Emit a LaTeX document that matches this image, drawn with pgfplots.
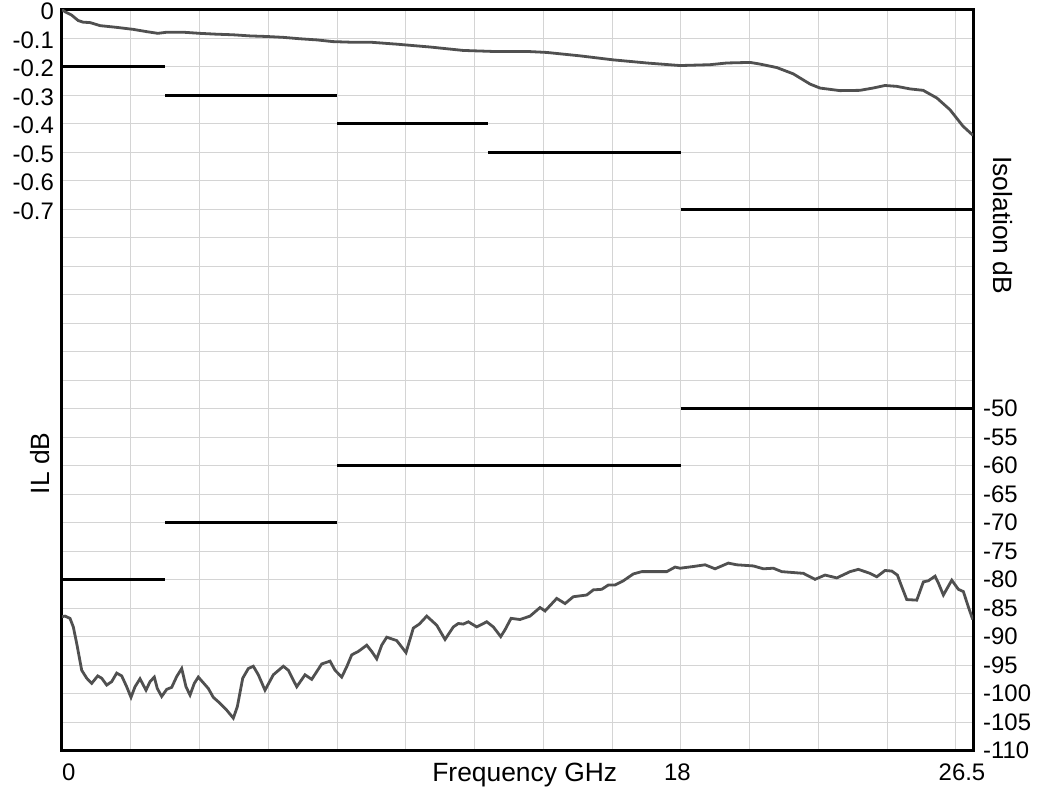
\documentclass[border=0pt]{standalone}
\usepackage{fontspec}
\setmainfont{Liberation Sans}
\usepackage{pgfplots}
\pgfplotsset{compat=1.18}
\definecolor{trace}{RGB}{80,80,80}
\definecolor{gridc}{RGB}{212,212,212}
\begin{document}
\begin{tikzpicture}
\path[use as bounding box] (-62bp,-41.4bp) rectangle (989bp,750.6bp);
\begin{axis}[
  at={(0,0)}, anchor=south west,
  scale only axis, width=911bp, height=740.9bp,
  xmin=0, xmax=26.5, ymin=-2.6, ymax=0,
  xtick={0.2,17.9,26.18}, xticklabels={0,18,26.5},
  minor xtick={2,4,6,8,10,12,14,16,18,20,22,24,26},
  ytick={0,-0.1,-0.2,-0.3,-0.4,-0.5,-0.6,-0.7},
  yticklabels={0,-0.1,-0.2,-0.3,-0.4,-0.5,-0.6,-0.7},
  minor ytick={-0.8,-0.9,-1.0,-1.1,-1.2,-1.3,-1.4,-1.5,-1.6,-1.7,-1.8,-1.9,-2.0,-2.1,-2.2,-2.3,-2.4,-2.5},
  xmajorgrids=false, xminorgrids=true, ymajorgrids=true, yminorgrids=true,
  grid style={gridc, line width=1bp},
  minor grid style={gridc, line width=1bp},
  major tick length=0pt, minor tick length=0pt,
  axis line style={line width=3bp, black},
  /pgf/number format/assume math mode=true,
  ticklabel style={font=\fontsize{24}{28}\selectfont, inner sep=0pt},
  xticklabel style={anchor=north, yshift=-13.4bp},
  yticklabel style={anchor=east, xshift=-8bp, yshift=-2bp},
  xlabel={Frequency GHz}, ylabel={IL dB},
  label style={font=\fontsize{26.5}{30}\selectfont, inner sep=0pt},
  xlabel style={at={(axis description cs:0.508,0)}, anchor=north, yshift=-12.4bp},
  ylabel style={at={(axis description cs:-0.02415,0.3875)}, anchor=center},
]
% IL specification mask
\addplot[black, line width=3bp] coordinates {(0,-0.2) (3,-0.2)};
\addplot[black, line width=3bp] coordinates {(3,-0.3) (8,-0.3)};
\addplot[black, line width=3bp] coordinates {(8,-0.4) (12.4,-0.4)};
\addplot[black, line width=3bp] coordinates {(12.4,-0.5) (18,-0.5)};
\addplot[black, line width=3bp] coordinates {(18,-0.7) (26.5,-0.7)};
% IL trace
\addplot[trace, line width=2.8bp] coordinates {
(0,0) (0.087,-0.007) (0.28,-0.019) (0.47,-0.038) (0.62,-0.044) (0.81,-0.045)
(1.11,-0.056) (1.59,-0.062) (2.07,-0.069) (2.46,-0.077) (2.79,-0.083) (3.05,-0.079)
(3.52,-0.079) (4.01,-0.083) (4.50,-0.086) (4.97,-0.088) (5.47,-0.092) (5.95,-0.094)
(6.43,-0.097) (6.92,-0.102) (7.41,-0.106) (7.88,-0.112) (8.38,-0.114) (8.96,-0.114)
(9.74,-0.121) (10.71,-0.131) (11.67,-0.143) (12.65,-0.147) (13.61,-0.147) (14.10,-0.150)
(15.07,-0.162) (16.03,-0.176) (17.01,-0.187) (17.98,-0.196) (18.85,-0.193) (19.34,-0.187)
(20.02,-0.185) (20.31,-0.191) (20.79,-0.203) (21.27,-0.225) (21.76,-0.261) (22.05,-0.275)
(22.63,-0.284) (23.21,-0.283) (23.59,-0.275) (23.94,-0.266) (24.28,-0.269) (24.67,-0.278)
(25.05,-0.283) (25.45,-0.310) (25.83,-0.351) (26.21,-0.409) (26.50,-0.441)
};
\end{axis}
\begin{axis}[
  at={(0,0)}, anchor=south west,
  scale only axis, width=911bp, height=740.9bp,
  xmin=0, xmax=26.5, ymin=-110, ymax=20,
  hide x axis,
  axis y line*=right,
  y axis line style={draw=none},
  ytick={-50,-55,-60,-65,-70,-75,-80,-85,-90,-95,-100,-105,-110},
  yticklabels={-50,-55,-60,-65,-70,-75,-80,-85,-90,-95,-100,-105,-110},
  major tick length=0pt,
  /pgf/number format/assume math mode=true,
  ticklabel style={font=\fontsize{24}{28}\selectfont, inner sep=0pt},
  yticklabel style={anchor=west, xshift=10bp},
  ylabel={Isolation dB},
  label style={font=\fontsize{26.5}{30}\selectfont, inner sep=0pt},
  ylabel style={at={(axis description cs:1.0329,0.709)}, anchor=center, rotate=180},
]
% Isolation specification mask
\addplot[black, line width=3bp] coordinates {(0,-80) (3,-80)};
\addplot[black, line width=3bp] coordinates {(3,-70) (8,-70)};
\addplot[black, line width=3bp] coordinates {(8,-60) (18,-60)};
\addplot[black, line width=3bp] coordinates {(18,-50) (26.5,-50)};
% Isolation trace
\addplot[trace, line width=2.8bp] coordinates {
(0.0,-86.5) (0.087,-86.4) (0.233,-86.8) (0.329,-88.3) (0.428,-91.2) (0.573,-95.9)
(0.719,-97.3) (0.864,-98.2) (1.039,-96.9) (1.155,-97.3) (1.300,-98.5) (1.446,-97.9)
(1.591,-96.4) (1.737,-96.9) (1.882,-98.8) (2.007,-100.65) (2.124,-98.8) (2.269,-97.4)
(2.444,-99.4) (2.560,-97.9) (2.685,-97.1) (2.772,-99.1) (2.900,-100.5) (3.046,-99.25)
(3.191,-98.9) (3.337,-97.0) (3.482,-95.6) (3.607,-98.8) (3.724,-100.25) (3.849,-98.2)
(3.965,-97.1) (4.111,-98.1) (4.256,-99.1) (4.401,-100.65) (4.596,-101.7) (4.791,-102.9)
(4.983,-104.3) (5.100,-102.3) (5.257,-97.3) (5.420,-95.6) (5.565,-95.2) (5.711,-96.7)
(5.905,-99.4) (6.147,-96.7) (6.438,-95.2) (6.583,-95.9) (6.828,-98.8) (7.069,-96.7)
(7.264,-97.5) (7.555,-94.8) (7.796,-94.3) (7.942,-95.9) (8.137,-97.1) (8.282,-95.3)
(8.428,-93.2) (8.620,-92.6) (8.864,-91.5) (9.009,-92.6) (9.155,-93.9) (9.300,-91.5)
(9.446,-90.1) (9.737,-90.7) (10.007,-92.8) (10.220,-88.5) (10.394,-87.8) (10.610,-86.4)
(10.900,-88.0) (11.142,-90.5) (11.383,-88.3) (11.529,-87.7) (11.674,-87.8) (11.820,-87.4)
(12.064,-88.3) (12.355,-87.4) (12.547,-88.3) (12.762,-90.0) (12.887,-88.8) (13.062,-86.8)
(13.324,-87.0) (13.615,-86.4) (13.905,-84.9) (14.051,-85.5) (14.391,-83.3) (14.633,-84.2)
(14.874,-83.0) (15.264,-82.7) (15.456,-81.8) (15.700,-81.7) (15.892,-80.95) (16.087,-80.95)
(16.329,-80.2) (16.620,-79.0) (16.864,-78.6) (17.591,-78.6) (17.833,-77.8) (17.978,-78.0)
(18.365,-77.7) (18.705,-77.4) (18.996,-78.1) (19.383,-77.1) (19.628,-77.4) (20.111,-77.6)
(20.401,-78.1) (20.692,-78.0) (20.937,-78.6) (21.565,-78.9) (21.905,-79.95) (22.196,-79.2)
(22.537,-79.7) (22.924,-78.6) (23.165,-78.2) (23.505,-78.9) (23.700,-79.5) (23.942,-78.4)
(24.137,-78.5) (24.300,-79.2) (24.428,-81.25) (24.573,-83.5) (24.864,-83.6) (25.056,-80.4)
(25.201,-80.2) (25.396,-79.4) (25.493,-80.6) (25.638,-82.7) (25.882,-80.1) (26.074,-81.7)
(26.220,-82.1) (26.365,-84.8) (26.493,-87.0)
};
\end{axis}
\end{tikzpicture}
\end{document}
